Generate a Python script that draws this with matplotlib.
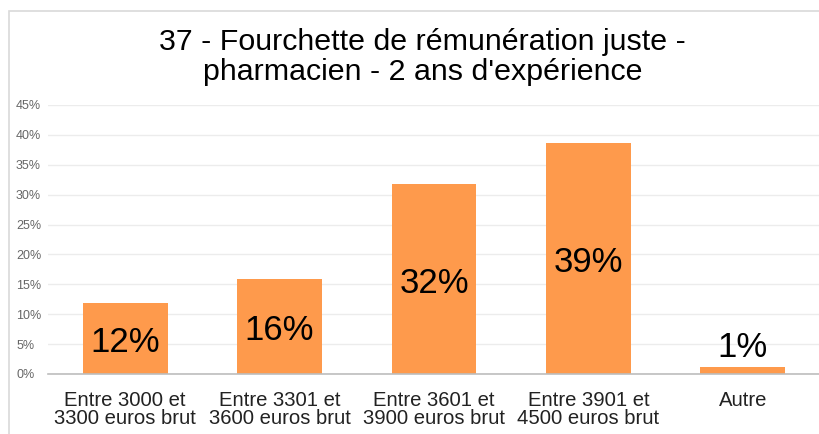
import matplotlib.pyplot as plt
from matplotlib.patches import Rectangle
from matplotlib.ticker import PercentFormatter

plt.rcParams['font.family'] = ['Liberation Sans', 'DejaVu Sans']

# Chart data
categories = ['Entre 3000 et\n3300 euros brut', 'Entre 3301 et\n3600 euros brut',
              'Entre 3601 et\n3900 euros brut', 'Entre 3901 et\n4500 euros brut', 'Autre']
values = [0.119, 0.159, 0.318, 0.386, 0.012]
labels = ['12%', '16%', '32%', '39%', '1%']
yticks = [0, 0.05, 0.10, 0.15, 0.20, 0.25, 0.30, 0.35, 0.40, 0.45]

W, H = 820, 434
fig = plt.figure(figsize=(W / 100, H / 100), dpi=100)
# light frame around the chart
fig.patches.append(Rectangle((9 / W, -0.05), 1.0, 1 - 11 / H + 0.05,
                             transform=fig.transFigure, fill=False,
                             edgecolor='#d9d9d9', lw=1.2))

ax = fig.add_axes([48 / W, 60 / H, 772 / W, 269 / H])
x = range(len(categories))
ax.bar(x, values, width=0.55, color='#fe9a4c', zorder=2)

for i, (v, lab) in enumerate(zip(values, labels)):
    if v > 0.05:
        ax.annotate(lab, (i, v / 2), xytext=(0, -3), textcoords='offset points',
                    ha='center', va='center', fontsize=25, color='black', zorder=3)
    else:
        ax.annotate(lab, (i, v), xytext=(0, 2), textcoords='offset points',
                    ha='center', va='bottom', fontsize=25, color='black', zorder=3)

ax.set_xlim(-0.5, len(categories) - 0.5)
ax.set_ylim(0, 0.45)
ax.set_yticks(yticks)
ax.yaxis.set_major_formatter(PercentFormatter(1.0, decimals=0))
ax.set_xticks(list(x))
ax.set_xticklabels(categories, fontsize=14.6, color='#222222', linespacing=0.95)
ax.tick_params(axis='y', labelsize=9, labelcolor='#666666', length=0, pad=23)
ax.tick_params(axis='x', length=0, pad=12)
for lab in ax.get_yticklabels():
    lab.set_horizontalalignment('left')

ax.grid(axis='y', color='#ececec', lw=1, zorder=0)
for s in ['top', 'right', 'left']:
    ax.spines[s].set_visible(False)
ax.spines['bottom'].set_color('#bdbdbd')
ax.spines['bottom'].set_linewidth(1.2)

fig.text(0.515, 1 - 57 / H, "37 - Fourchette de rémunération juste -\npharmacien - 2 ans d'expérience",
         ha='center', va='center', fontsize=21.9, color='black', linespacing=1.05)

fig.savefig('out.png', dpi=100)
